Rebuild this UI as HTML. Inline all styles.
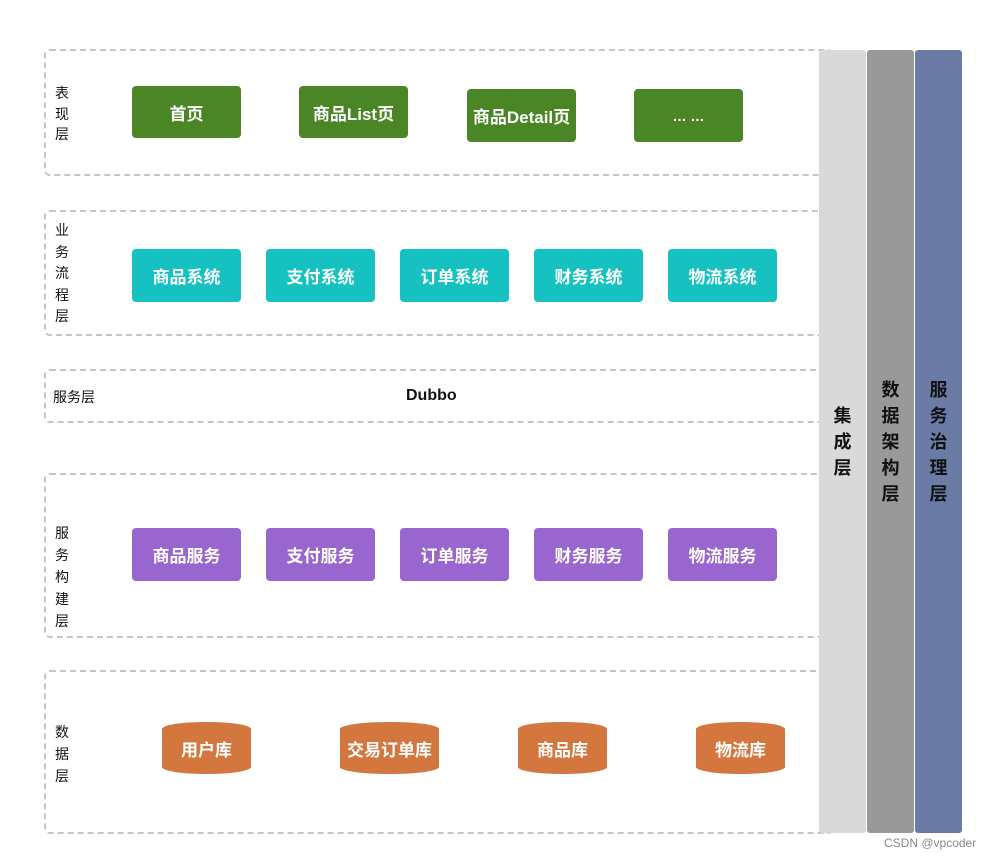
<!DOCTYPE html>
<html><head><meta charset="utf-8"><style>
body{margin:0;background:#fff;width:992px;height:860px;position:relative;font-family:"Liberation Sans","Noto Sans CJK SC",sans-serif;overflow:hidden}
.layer{position:absolute;left:44px;width:790px;border:2px dashed #c4c6c9;border-radius:6px;box-sizing:border-box}
.lab{position:absolute;left:55px;font-size:14px;line-height:20.5px;width:16px;color:#111}
.b{position:absolute;color:#fff;font-weight:bold;font-size:17px;display:flex;align-items:center;justify-content:center;border-radius:4px;white-space:nowrap}
.g{background:#4b8626}.c{background:#16c2c1}.p{background:#9966cf}
.cy{position:absolute;background:#d4773e;color:#fff;font-weight:bold;font-size:17px;display:flex;align-items:center;justify-content:center;border-radius:50%/7px;height:52px;top:722px}
.col{position:absolute;top:50px;height:783px;width:47px;border-radius:3px;font-weight:bold;font-size:18px;line-height:26px;display:flex;align-items:center;justify-content:center;text-align:center;color:#111}
</style></head><body>
<div class="layer" style="top:49px;height:127px"></div>
<div class="layer" style="top:210px;height:126px"></div>
<div class="layer" style="top:369px;height:54px"></div>
<div class="layer" style="top:473px;height:165px"></div>
<div class="layer" style="top:670px;height:164px"></div>

<div class="lab" style="top:83px">表<br>现<br>层</div>
<div class="lab" style="top:220px;line-height:21.5px">业<br>务<br>流<br>程<br>层</div>
<div style="position:absolute;left:53px;top:387px;font-size:14px;color:#111">服务层</div>
<div style="position:absolute;left:406px;top:387px;font-size:16px;font-weight:bold;color:#111">Dubbo</div>
<div class="lab" style="top:522px;line-height:22px">服<br>务<br>构<br>建<br>层</div>
<div class="lab" style="top:721px;line-height:22px">数<br>据<br>层</div>

<div class="b g" style="left:132px;top:86px;width:109px;height:52px">首页</div>
<div class="b g" style="left:299px;top:86px;width:109px;height:52px">商品List页</div>
<div class="b g" style="left:467px;top:89px;width:109px;height:53px">商品Detail页</div>
<div class="b g" style="left:634px;top:89px;width:109px;height:53px;font-size:14px">… …</div>

<div class="b c" style="left:132px;top:249px;width:109px;height:53px">商品系统</div>
<div class="b c" style="left:266px;top:249px;width:109px;height:53px">支付系统</div>
<div class="b c" style="left:400px;top:249px;width:109px;height:53px">订单系统</div>
<div class="b c" style="left:534px;top:249px;width:109px;height:53px">财务系统</div>
<div class="b c" style="left:668px;top:249px;width:109px;height:53px">物流系统</div>

<div class="b p" style="left:132px;top:528px;width:109px;height:53px">商品服务</div>
<div class="b p" style="left:266px;top:528px;width:109px;height:53px">支付服务</div>
<div class="b p" style="left:400px;top:528px;width:109px;height:53px">订单服务</div>
<div class="b p" style="left:534px;top:528px;width:109px;height:53px">财务服务</div>
<div class="b p" style="left:668px;top:528px;width:109px;height:53px">物流服务</div>

<div class="cy" style="left:162px;width:89px">用户库</div>
<div class="cy" style="left:340px;width:99px">交易订单库</div>
<div class="cy" style="left:518px;width:89px">商品库</div>
<div class="cy" style="left:696px;width:89px">物流库</div>

<div class="col" style="left:819px;background:#d9d9d9">集<br>成<br>层</div>
<div class="col" style="left:867px;background:#999999">数<br>据<br>架<br>构<br>层</div>
<div class="col" style="left:915px;background:#6a7ba5">服<br>务<br>治<br>理<br>层</div>
<div style="position:absolute;left:884px;top:836px;font-size:12px;color:#888">CSDN @vpcoder</div>
</body></html>
